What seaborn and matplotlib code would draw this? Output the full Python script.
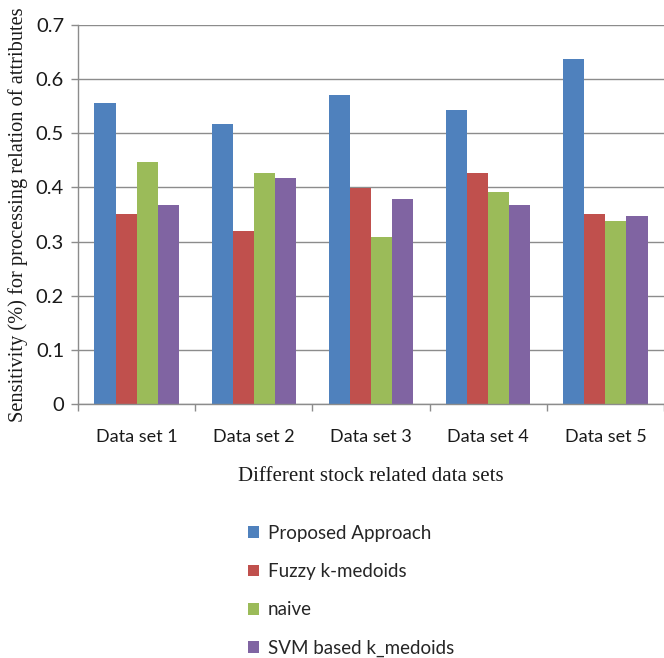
import matplotlib
matplotlib.use("Agg")
import matplotlib.pyplot as plt
import seaborn as sns
import pandas as pd
from matplotlib.patches import Patch

datasets = ["Data set 1", "Data set 2", "Data set 3", "Data set 4", "Data set 5"]
methods = ["Proposed Approach", "Fuzzy k-medoids", "naive", "SVM based k_medoids"]
proposed = [0.556, 0.518, 0.570, 0.543, 0.638]
fuzzy = [0.351, 0.320, 0.399, 0.427, 0.351]
naive = [0.447, 0.427, 0.309, 0.391, 0.338]
svm = [0.368, 0.418, 0.379, 0.368, 0.348]
colors = ["#4F81BD", "#C0504D", "#9BBB59", "#8064A2"]

rows = []
for m, vals in zip(methods, [proposed, fuzzy, naive, svm]):
    for d, v in zip(datasets, vals):
        rows.append({"Data set": d, "Method": m, "Value": v})
df = pd.DataFrame(rows)

sns.set_theme(style="white")
fig = plt.figure(figsize=(6.64, 6.58), dpi=100)
ax = fig.add_axes([78 / 664, 1 - 404 / 658, 1 - 78 / 664, (404 - 25) / 658])

sns.barplot(data=df, x="Data set", y="Value", hue="Method", palette=colors,
            width=0.72, saturation=1, linewidth=0, ax=ax, legend=False)

ax.set_ylim(0, 0.7)
ax.set_xlim(-0.5, 4.5)
ax.set_yticks([0, 0.1, 0.2, 0.3, 0.4, 0.5, 0.6, 0.7])
ax.set_yticklabels(["0", "0.1", "0.2", "0.3", "0.4", "0.5", "0.6", "0.7"])
ax.yaxis.grid(True, color="#8c8c8c", linewidth=1.0)
ax.set_axisbelow(True)
for s in ["top", "right"]:
    ax.spines[s].set_visible(False)
for s in ["left", "bottom"]:
    ax.spines[s].set_color("#8c8c8c")
    ax.spines[s].set_linewidth(1.0)

# category boundary ticks on the x axis
ax.set_xticks([-0.5, 0.5, 1.5, 2.5, 3.5, 4.5], minor=True)
ax.tick_params(axis="x", which="minor", bottom=True, length=5, color="#8c8c8c",
               width=1, direction="out")
ax.tick_params(axis="x", which="major", length=0, pad=18)
ax.tick_params(axis="y", which="major", left=True, length=5, color="#8c8c8c",
               width=1, direction="out", pad=5)

for lbl in ax.get_xticklabels():
    lbl.set_fontfamily("Lato")
    lbl.set_fontsize(13)
    lbl.set_color("#1a1a1a")
for lbl in ax.get_yticklabels():
    lbl.set_fontfamily("Lato")
    lbl.set_fontsize(14.5)
    lbl.set_color("#1a1a1a")

ax.set_xlabel("Different stock related data sets", family="Liberation Serif",
              fontsize=15, color="#1a1a1a", labelpad=16)
ax.set_ylabel("Sensitivity (%) for processing relation of attributes",
              family="Liberation Serif", fontsize=14.7, color="#1a1a1a", labelpad=6)

handles = [Patch(facecolor=c, edgecolor="none") for c in colors]
fig.legend(handles, methods, loc="upper left", bbox_to_anchor=(231 / 664, 1 - 508 / 658),
           frameon=False, handlelength=0.6, handleheight=0.6, handletextpad=0.45,
           labelspacing=1.13, prop={"family": "Lato", "size": 13.5})

fig.savefig("out.png", dpi=100)
